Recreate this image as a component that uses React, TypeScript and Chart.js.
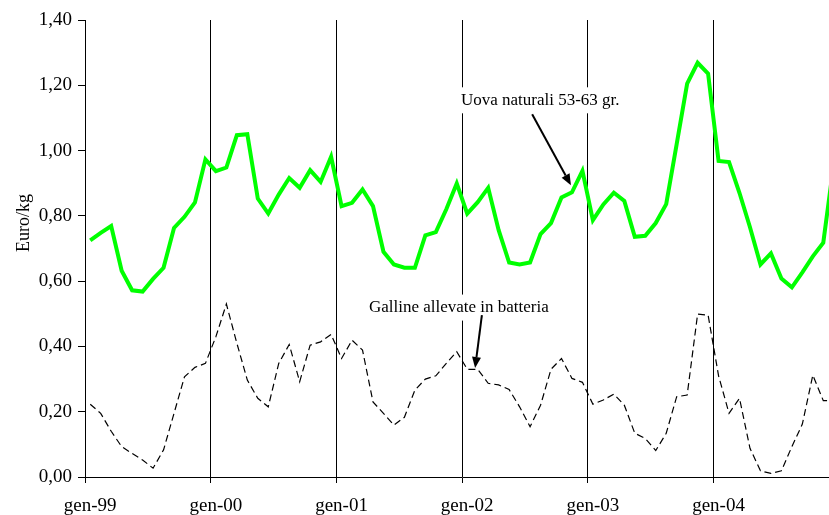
import React, { useEffect, useRef } from 'react';
import { Chart, registerables } from 'chart.js';

Chart.register(...registerables);

// Categories: months gen-99 .. dic-04
const monthNames = ['gen', 'feb', 'mar', 'apr', 'mag', 'giu', 'lug', 'ago', 'set', 'ott', 'nov', 'dic'];
const years = ['99', '00', '01', '02', '03', '04'];
const months = years.flatMap((y) => monthNames.map((m) => `${m}-${y}`));

// Uova naturali 53-63 gr. (Euro/kg)
const uova = [
  0.725, 0.748, 0.769, 0.632, 0.572, 0.568, 0.607, 0.641, 0.763, 0.797, 0.841, 0.973,
  0.937, 0.948, 1.047, 1.050, 0.853, 0.807, 0.865, 0.916, 0.886, 0.940, 0.904, 0.981,
  0.830, 0.840, 0.881, 0.830, 0.690, 0.651, 0.641, 0.641, 0.740, 0.750, 0.820, 0.899,
  0.807, 0.842, 0.886, 0.756, 0.657, 0.651, 0.657, 0.744, 0.778, 0.856, 0.872, 0.938,
  0.787, 0.835, 0.871, 0.846, 0.736, 0.739, 0.778, 0.836, 1.020, 1.205, 1.269, 1.236,
  0.968, 0.965, 0.870, 0.765, 0.651, 0.685, 0.608, 0.581, 0.627, 0.676, 0.718, 0.960,
];

// Galline allevate in batteria (Euro/kg)
const galline = [
  0.223, 0.195, 0.140, 0.093, 0.072, 0.052, 0.027, 0.083, 0.195, 0.307, 0.336, 0.348,
  0.430, 0.530, 0.410, 0.297, 0.241, 0.215, 0.348, 0.406, 0.292, 0.404, 0.414, 0.437,
  0.363, 0.419, 0.389, 0.230, 0.195, 0.159, 0.183, 0.266, 0.300, 0.310, 0.348, 0.384,
  0.330, 0.330, 0.287, 0.282, 0.268, 0.215, 0.154, 0.220, 0.330, 0.363, 0.302, 0.290,
  0.223, 0.236, 0.254, 0.220, 0.134, 0.118, 0.081, 0.134, 0.246, 0.251, 0.499, 0.496,
  0.310, 0.195, 0.241, 0.088, 0.019, 0.011, 0.019, 0.093, 0.162, 0.312, 0.234, 0.234,
];

const yMin = 0;
const yMax = 1.4;
const yStep = 0.2;
const yTitle = 'Euro/kg';

// Annotations anchored in data space: [category index, value]
const annotationTexts = ['Uova naturali 53-63 gr.', 'Galline allevate in batteria'];
const annotationTextAt = [[42.97, 1.154], [35.2, 0.519]];
const annotationArrowFrom = [[42.2, 1.111], [37.4, 0.496]];
const annotationArrowTo = [[45.9, 0.894], [36.75, 0.334]];

const FONT = "'Liberation Serif', 'Times New Roman', Times, serif";

function drawArrow(ctx: CanvasRenderingContext2D, x1: number, y1: number, x2: number, y2: number) {
  const ang = Math.atan2(y2 - y1, x2 - x1);
  const hl = 11;
  const hw = 4.5;
  const bx = x2 - hl * Math.cos(ang);
  const by = y2 - hl * Math.sin(ang);
  ctx.beginPath();
  ctx.moveTo(x1, y1);
  ctx.lineTo(bx, by);
  ctx.stroke();
  ctx.beginPath();
  ctx.moveTo(x2, y2);
  ctx.lineTo(bx + hw * Math.sin(ang), by - hw * Math.cos(ang));
  ctx.lineTo(bx - hw * Math.sin(ang), by + hw * Math.cos(ang));
  ctx.closePath();
  ctx.fill();
}

const annotationPlugin = {
  id: 'annotations',
  beforeDatasetsDraw(chart: any) {
    const { ctx, scales } = chart;
    const x = scales.x;
    const y = scales.y;
    ctx.save();
    ctx.font = `17px ${FONT}`;
    ctx.textAlign = 'center';
    ctx.textBaseline = 'middle';
    annotationTexts.forEach((t, i) => {
      const px = x.getPixelForValue(annotationTextAt[i][0]);
      const py = y.getPixelForValue(annotationTextAt[i][1]);
      const w = ctx.measureText(t).width;
      ctx.fillStyle = '#ffffff';
      ctx.fillRect(px - w / 2 - 4, py - 13, w + 8, 26);
      ctx.fillStyle = '#000000';
      ctx.fillText(t, px, py);
    });
    // Y axis title
    ctx.translate(24, 223);
    ctx.rotate(-Math.PI / 2);
    ctx.font = `18px ${FONT}`;
    ctx.fillText(yTitle, 0, 0);
    ctx.restore();
  },
  afterDatasetsDraw(chart: any) {
    const { ctx, scales } = chart;
    const x = scales.x;
    const y = scales.y;
    ctx.save();
    ctx.strokeStyle = '#000000';
    ctx.fillStyle = '#000000';
    ctx.lineWidth = 2;
    annotationTexts.forEach((_, i) => {
      drawArrow(
        ctx,
        x.getPixelForValue(annotationArrowFrom[i][0]),
        y.getPixelForValue(annotationArrowFrom[i][1]),
        x.getPixelForValue(annotationArrowTo[i][0]),
        y.getPixelForValue(annotationArrowTo[i][1])
      );
    });
    ctx.restore();
  },
};

export default function App() {
  const ref = useRef<HTMLCanvasElement | null>(null);

  useEffect(() => {
    if (!ref.current) return;
    const chart = new Chart(ref.current, {
      type: 'line',
      data: {
        labels: months,
        datasets: [
          {
            label: annotationTexts[0],
            data: uova,
            borderColor: '#00ff00',
            borderWidth: 4,
            pointRadius: 0,
            tension: 0,
            fill: false,
          },
          {
            label: annotationTexts[1],
            data: galline,
            borderColor: '#000000',
            borderWidth: 1.2,
            borderDash: [7, 4],
            pointRadius: 0,
            tension: 0,
            fill: false,
          },
        ],
      },
      options: {
        responsive: false,
        animation: false,
        devicePixelRatio: 1,
        layout: { padding: { top: 20, right: 11, left: 0, bottom: 0 } },
        plugins: {
          legend: { display: false },
          tooltip: { enabled: false },
          title: { display: false },
        },
        scales: {
          x: {
            type: 'category',
            offset: true,
            grid: {
              offset: true,
              color: (c: any) => (typeof c.index === 'number' && c.index % 12 === 0 ? '#000000' : 'rgba(0,0,0,0)'),
              lineWidth: 1,
              tickLength: 6,
              drawOnChartArea: true,
            },
            border: { color: '#000000', width: 1 },
            ticks: {
              autoSkip: false,
              maxRotation: 0,
              minRotation: 0,
              padding: 12,
              color: '#000000',
              font: { family: FONT, size: 19 },
              callback: (_v: any, i: number) => (i % 12 === 0 ? months[i] : ''),
            },
            afterFit: (s: any) => {
              s.height = 38;
            },
          },
          y: {
            min: yMin,
            max: yMax,
            ticks: {
              stepSize: yStep,
              padding: 6,
              color: '#000000',
              font: { family: FONT, size: 19 },
              callback: (v: any) => Number(v).toFixed(2).replace('.', ','),
            },
            grid: { drawOnChartArea: false, color: '#000000', tickLength: 7 },
            border: { color: '#000000', width: 1 },
            afterFit: (s: any) => {
              s.width = 85;
            },
          },
        },
      },
      plugins: [annotationPlugin],
    } as any);
    return () => chart.destroy();
  }, []);

  return (
    <div
      style={{
        position: 'fixed',
        left: 0,
        top: 0,
        width: 829,
        height: 515,
        overflow: 'hidden',
        background: '#ffffff',
      }}
    >
      <canvas ref={ref} width={850} height={515} style={{ display: 'block', width: 850, height: 515 }} />
    </div>
  );
}
